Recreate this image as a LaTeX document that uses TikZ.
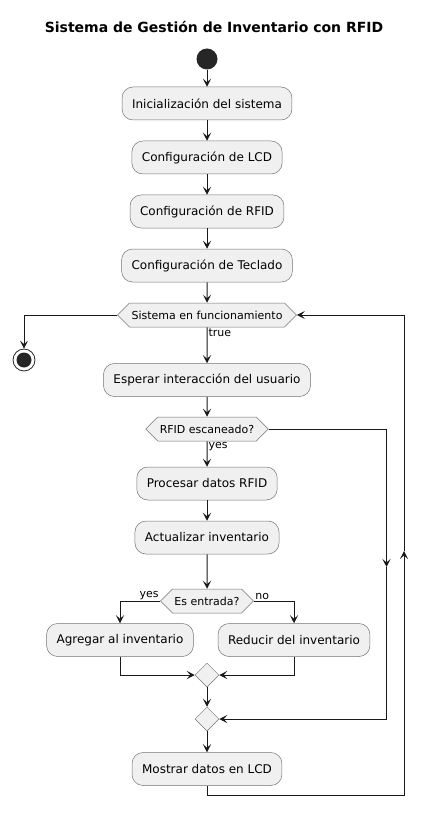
\documentclass[tikz,border=0pt]{standalone}
\usepackage{fontspec}
\setmainfont{DejaVu Sans}
\usetikzlibrary{positioning,arrows.meta,shapes.geometric,shapes.symbols}

\begin{document}
\begin{tikzpicture}[
    x = 1pt, y = 1pt,
    > = {Stealth[length=8pt,width=8pt,inset=3.5pt]},
    line width = 1pt,
    action/.style={rectangle, rounded corners=11pt, draw=black!55, line width=0.5pt, fill=black!6, minimum height=33pt, inner xsep=10pt, font=\fontsize{12}{14}\selectfont},
    choice/.style={signal, signal to=west and east, signal pointer angle=90, draw=black!55, line width=0.5pt, fill=black!6, minimum height=24pt, inner xsep=2pt, inner ysep=0pt, font=\fontsize{11}{13}\selectfont},
    merge/.style={diamond, draw=black!55, line width=0.5pt, fill=black!6, minimum size=24pt, inner sep=0pt},
    guard/.style={font=\fontsize{11}{13}\selectfont, inner sep=1pt},
    flow/.style={->, draw=black!90}
]
\useasboundingbox (0,0) rectangle (429,-818);

% Title
\node[font=\bfseries\fontsize{14}{16}\selectfont] (title) at (214,-27) {Sistema de Gestión de Inventario con RFID};

% Main column
\node[circle, fill=black!85, minimum size=21pt, inner sep=0pt] (start) at (207,-59) {};
\node[action] (init) at (207,-103.5) {Inicialización del sistema};
\node[action] (lcd) at (207,-157.5) {Configuración de LCD};
\node[action] (rfid) at (207,-211.5) {Configuración de RFID};
\node[action] (keypad) at (207,-265.5) {Configuración de Teclado};
\node[choice] (running) at (207,-315) {Sistema en funcionamiento};
\node[action] (wait) at (207,-380) {Esperar interacción del usuario};
\node[choice] (scanned) at (207,-429) {RFID escaneado?};
\node[action] (process) at (207,-483.5) {Procesar datos RFID};
\node[action] (update) [below=20.5pt of process] {Actualizar inventario};
\node[choice] (entry) at (207,-601) {Es entrada?};

% Branches
\node[action] (add) at (120,-640) {Agregar al inventario};
\node[action] (reduce) at (294,-640) {Reducir del inventario};
\node[merge] (join) at (207,-675) {};
\node[merge] (endif) at (207,-719) {};
\node[action] (show) [below=21pt of endif] {Mostrar datos en LCD};

% Stop
\node[circle, draw=black!85, line width=0.8pt, minimum size=22pt, inner sep=0pt] (stop) at (24,-360) {};
\node[circle, fill=black!85, minimum size=15pt, inner sep=0pt] (stopdot) at (stop) {};

% Helper points
\coordinate (skipmid) at (386.5,-567);
\coordinate (backmid) at (404,-551);
\coordinate (backlow) at (207,-795);

% Straight flow
\draw[flow] (start) -- (init);
\draw[flow] (init) -- (lcd);
\draw[flow] (lcd) -- (rfid);
\draw[flow] (rfid) -- (keypad);
\draw[flow] (keypad) -- (running);
\draw[flow] (running) -- node[guard, right, pos=0.15] {true} (wait);
\draw[flow] (running.west) -| (stop);
\draw[flow] (wait) -- (scanned);
\draw[flow] (scanned) -- node[guard, right, pos=0.2] {yes} (process);
\draw[flow] (process) -- (update);
\draw[flow] (update) -- (entry);

% Es entrada?
\draw[flow] (entry.west) -| (add);
\node[guard, anchor=south east] (yeslbl) at (entry.west) {yes};
\draw[flow] (entry.east) -| (reduce);
\node[guard, anchor=south west] (nolbl) at (entry.east) {no};
\draw[flow] (add) |- (join.west);
\draw[flow] (reduce) |- (join.east);
\draw[flow] (join) -- (endif);

% No scan
\draw[flow] (scanned.east) -| (skipmid);
\draw[flow] (skipmid) |- (endif.east);
\draw[flow] (endif) -- (show);

% Back loop
\draw[flow] (show.south) -- (backlow) -| (backmid);
\draw[flow] (backmid) |- (running.east);

\end{tikzpicture}
\end{document}
